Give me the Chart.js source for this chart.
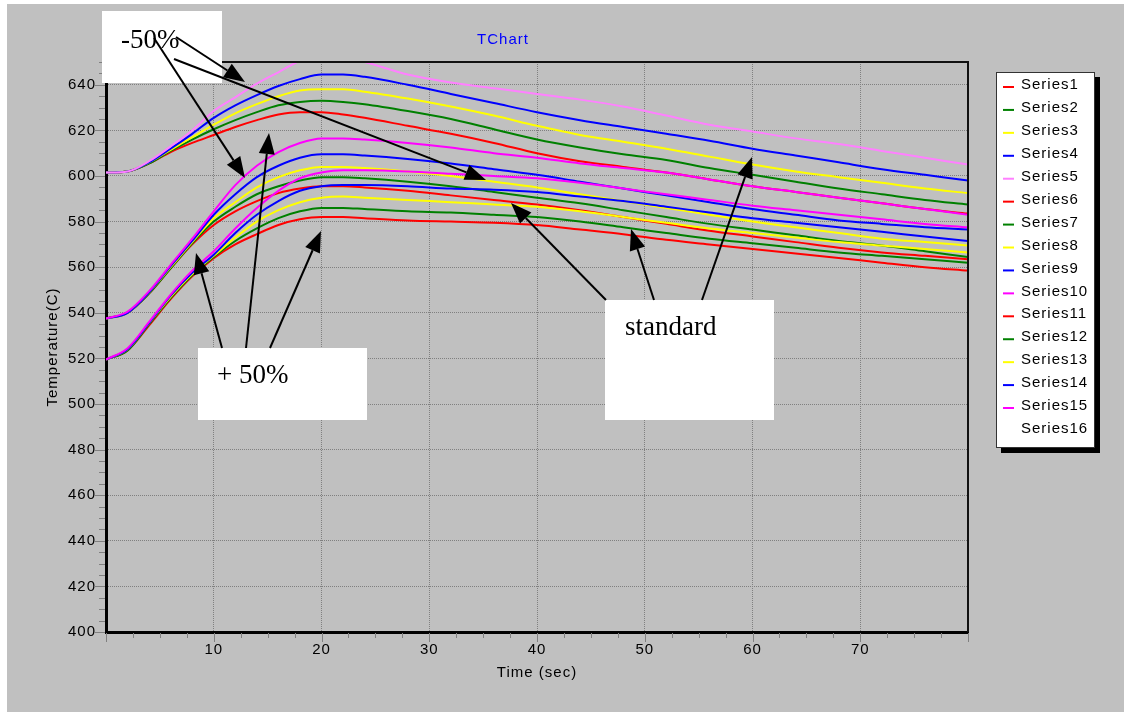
<!DOCTYPE html>
<html>
<head>
<meta charset="utf-8">
<title>TChart</title>
<script src="https://cdn.jsdelivr.net/npm/chart.js@4.4.1/dist/chart.umd.min.js"></script>
<style>
  html, body { margin: 0; padding: 0; background: #ffffff; }
  canvas { display: block; }
</style>
</head>
<body>
<canvas id="tempChart" width="1124" height="712"></canvas>
<script>
// sample times (sec)
const time = [0, 2, 4, 6, 8, 10, 12, 14, 16, 18, 20, 22, 24, 28, 32, 36, 40, 44, 48, 52, 56, 60, 64, 68, 72, 76, 80];

// group starting at ~601 C
const series1 = [601.5, 602, 605.5, 610.5, 614.5, 618, 621.5, 624.5, 627, 628, 628, 627, 625.5, 622, 618.5, 614.5, 610, 606.5, 604, 601.5, 598.5, 595.5, 593, 590.5, 588, 585.5, 583.5];
const series2 = [601.5, 602, 605.5, 611, 616, 620.5, 624.5, 628, 631, 632.5, 633, 632.5, 631.5, 628.5, 625, 620.5, 616, 612.5, 609.5, 607, 603.5, 600.5, 597.5, 594.5, 592, 589.5, 587.5];
const series3 = [601.5, 602, 606, 611.5, 617, 622.5, 627.5, 631.5, 635, 637.5, 638, 638, 637, 634, 630.5, 626.5, 622, 618, 615, 612, 608.5, 605, 602, 599.5, 597, 594.5, 592.5];
const series4 = [601.5, 602, 606, 612, 618.5, 625.5, 631, 635.5, 639.5, 642.5, 644.5, 644.5, 643.5, 640, 636, 632, 628, 624.5, 621.5, 618.5, 615.5, 612, 609, 606, 603, 600.5, 598];
const series5 = [601.5, 602, 606.5, 613, 620, 628.5, 634.5, 640.5, 645.5, 650.5, 652.5, 652, 650, 644.5, 641, 638.5, 636, 633.5, 630.5, 626.5, 622.5, 619.5, 616.5, 614, 611, 608, 605];

// group starting at ~537 C
const series6 = [537.5, 540, 548.5, 559.5, 570, 578.5, 584.5, 589, 592.5, 594.5, 595.5, 595.5, 595, 593.5, 591.5, 589.5, 587.5, 585, 582, 579, 576, 573.5, 571, 568.5, 566.5, 565, 563.5];
const series7 = [537.5, 540, 548.5, 559.5, 570.5, 580, 586.5, 592, 595.5, 598, 599.5, 599.5, 599, 597.5, 595.5, 593, 590.5, 588, 585, 582, 579, 576.5, 574, 571.5, 569.5, 567, 564.5];
const series8 = [537.5, 540, 549, 560, 571, 581.5, 588.5, 595, 599.5, 602.5, 604, 604, 603.5, 602, 600, 597.5, 595, 592, 589, 586, 583, 580, 577.5, 575, 572.5, 571, 569.5];
const series9 = [537.5, 540, 549, 560.5, 571.5, 583, 592, 599.5, 604.5, 608, 609.5, 609.5, 609, 607.5, 605.5, 603, 600.5, 597.5, 594.5, 591.5, 588.5, 585.5, 583, 580.5, 579, 577.5, 576.5];
const series10 = [537.5, 540.5, 549.5, 561, 572.5, 584.5, 596, 604.5, 610.5, 614.5, 616.5, 616.5, 616, 614.5, 612.5, 610, 608, 605.5, 603.5, 601.5, 598.5, 595.5, 593, 590.5, 588, 585.5, 583];

// group starting at ~519 C
const series11 = [519.5, 523.5, 534.5, 546, 556, 564, 570, 574.5, 578.5, 581, 582, 582, 581.5, 580.5, 580, 579.5, 578.5, 576.5, 574.5, 572, 570, 568, 566, 564, 562, 560, 558.5];
const series12 = [519.5, 523.5, 535, 546.5, 556.5, 564.5, 571.5, 577, 581.5, 584.5, 586, 586, 585.5, 584.5, 584, 583, 582, 580, 577.5, 575, 572.5, 570.5, 568.5, 566.5, 565, 563.5, 562];
const series13 = [519.5, 524, 535.5, 547, 557, 565, 573, 580, 585, 588.5, 590.5, 591, 590.5, 589.5, 588.5, 587.5, 586.5, 584.5, 582, 579.5, 577, 575, 573, 571, 569.5, 568, 566.5];
const series14 = [519.5, 524, 535.5, 547.5, 557.5, 565.5, 575, 583, 589, 593.5, 595.5, 596, 596, 595.5, 594.5, 594, 593, 591, 589, 586.5, 584, 581.5, 579.5, 577.5, 575.5, 573.5, 571.5];
const series15 = [519.5, 524.5, 536, 548, 558.5, 567, 577, 586, 593.5, 599, 601.5, 602.5, 602.5, 602, 601, 600, 599, 597, 594.5, 592, 589.5, 587, 585, 583, 581, 579, 577.5];
const series16 = [];

const allSeries = [series1, series2, series3, series4, series5, series6, series7, series8,
  series9, series10, series11, series12, series13, series14, series15, series16];
const seriesNames = ["Series1", "Series2", "Series3", "Series4", "Series5", "Series6", "Series7", "Series8",
  "Series9", "Series10", "Series11", "Series12", "Series13", "Series14", "Series15", "Series16"];
const seriesColors = ["#FF0000", "#008000", "#FFFF00", "#0000FF", "#FF80FF", "#FF0000", "#008000", "#FFFF00",
  "#0000FF", "#FF00FF", "#FF0000", "#008000", "#FFFF00", "#0000FF", "#FF00FF", "#FFFFFF"];

const xTickValues = [10, 20, 30, 40, 50, 60, 70];
const yTickValues = [400, 420, 440, 460, 480, 500, 520, 540, 560, 580, 600, 620, 640];

// callout boxes and arrows drawn on top (canvas pixels)
const callouts = [
  { text: "-50%", box: [102, 11, 120, 72], at: [121, 48] },
  { text: "+ 50%", box: [198, 348, 169, 72], at: [217, 383] },
  { text: "standard", box: [605, 300, 169, 120], at: [625, 335] }
];
const arrows = [
  [176, 37, 245, 82],
  [154, 38, 245, 178],
  [174, 59, 486, 180],
  [222, 348, 196, 253],
  [246, 348, 269, 133],
  [270, 348, 321, 231],
  [606, 300, 511, 203],
  [654, 300, 631, 229],
  [702, 300, 752, 157]
];

const FONT = "'Liberation Sans', Arial, sans-serif";
Chart.defaults.font.family = FONT;
Chart.defaults.font.size = 15;
Chart.defaults.color = "#000000";

const spacing = {
  id: "spacing",
  beforeLayout(chart) { chart.ctx.letterSpacing = "1px"; },
  beforeDraw(chart) { chart.ctx.letterSpacing = "1px"; }
};

const panel = {
  id: "panel",
  beforeDraw(chart) {
    const ctx = chart.ctx;
    ctx.save();
    ctx.fillStyle = "#FFFFFF";
    ctx.fillRect(0, 0, chart.width, chart.height);
    ctx.fillStyle = "#C0C0C0";
    ctx.fillRect(7, 4, chart.width - 7, chart.height - 4);
    ctx.fillStyle = "#0000FF";
    ctx.font = "15px " + FONT;
    ctx.textAlign = "center";
    ctx.textBaseline = "middle";
    ctx.fillText("TChart", 503, 40);
    ctx.restore();
  }
};

// minor/major tick marks plus the top and right frame
const frame = {
  id: "frame",
  afterDatasetsDraw(chart) {
    const ctx = chart.ctx;
    const a = chart.chartArea;
    const xs = chart.scales.x, ys = chart.scales.y;
    ctx.save();
    ctx.strokeStyle = "#808080";
    ctx.lineWidth = 1;
    ctx.beginPath();
    for (let v = 400; v <= 650; v += 5) {
      const y = Math.round(ys.getPixelForValue(v)) + 0.5;
      const len = v % 20 === 0 ? 10 : 5;
      ctx.moveTo(a.left - 2 - len, y);
      ctx.lineTo(a.left - 1, y);
    }
    for (let t = 0; t <= 80; t += 2.5) {
      const x = Math.round(xs.getPixelForValue(t)) + 0.5;
      const len = t % 10 === 0 ? 9 : 5;
      ctx.moveTo(x, a.bottom + 1);
      ctx.lineTo(x, a.bottom + 1 + len);
    }
    ctx.stroke();
    ctx.strokeStyle = "#111111";
    ctx.lineWidth = 2;
    ctx.beginPath();
    ctx.moveTo(a.left, a.top);
    ctx.lineTo(a.right, a.top);
    ctx.lineTo(a.right, a.bottom);
    ctx.stroke();
    ctx.restore();
  }
};

const legendBox = {
  id: "legendBox",
  afterDraw(chart) {
    const ctx = chart.ctx;
    const x = 996, y = 72, w = 99, h = 376;
    ctx.save();
    ctx.fillStyle = "#000000";
    ctx.fillRect(x + 5, y + 5, w, h);
    ctx.fillStyle = "#FFFFFF";
    ctx.fillRect(x, y, w, h);
    ctx.strokeStyle = "#333333";
    ctx.lineWidth = 1;
    ctx.strokeRect(x + 0.5, y + 0.5, w - 1, h - 1);
    ctx.font = "15px " + FONT;
    ctx.textAlign = "left";
    ctx.textBaseline = "middle";
    chart.data.datasets.forEach((ds, i) => {
      const ry = y + 13 + i * 22.93;
      ctx.strokeStyle = ds.borderColor;
      ctx.lineWidth = 2;
      ctx.beginPath();
      ctx.moveTo(x + 7, ry + 2);
      ctx.lineTo(x + 18, ry + 2);
      ctx.stroke();
      ctx.fillStyle = "#000000";
      ctx.fillText(ds.label, x + 25, ry);
    });
    ctx.restore();
  }
};

const notes = {
  id: "notes",
  afterDraw(chart) {
    const ctx = chart.ctx;
    ctx.save();
    ctx.letterSpacing = "0px";
    callouts.forEach(c => {
      ctx.fillStyle = "#FFFFFF";
      ctx.fillRect(c.box[0], c.box[1], c.box[2], c.box[3]);
      ctx.fillStyle = "#000000";
      ctx.font = "27px 'Liberation Serif', 'Times New Roman', serif";
      ctx.textAlign = "left";
      ctx.textBaseline = "alphabetic";
      ctx.fillText(c.text, c.at[0], c.at[1]);
    });
    ctx.strokeStyle = "#000000";
    ctx.fillStyle = "#000000";
    ctx.lineWidth = 2;
    arrows.forEach(([x1, y1, x2, y2]) => {
      const ang = Math.atan2(y2 - y1, x2 - x1);
      const len = 21, half = 8;
      const bx = x2 - len * Math.cos(ang), by = y2 - len * Math.sin(ang);
      ctx.beginPath();
      ctx.moveTo(x1, y1);
      ctx.lineTo(bx, by);
      ctx.stroke();
      ctx.beginPath();
      ctx.moveTo(x2, y2);
      ctx.lineTo(bx + half * Math.sin(ang), by - half * Math.cos(ang));
      ctx.lineTo(bx - half * Math.sin(ang), by + half * Math.cos(ang));
      ctx.closePath();
      ctx.fill();
    });
    ctx.restore();
  }
};

const datasets = seriesNames.map((name, i) => ({
  label: name,
  data: allSeries[i].map((v, k) => ({ x: time[k], y: v })),
  borderColor: seriesColors[i],
  backgroundColor: seriesColors[i],
  borderWidth: 2,
  pointRadius: 0,
  fill: false,
  cubicInterpolationMode: "monotone",
  order: -i
}));

const tempChart = new Chart(document.getElementById("tempChart"), {
  type: "line",
  data: { datasets: datasets },
  options: {
    responsive: false,
    maintainAspectRatio: false,
    animation: false,
    layout: { padding: { left: 0, top: 62, right: 156, bottom: 0 } },
    plugins: {
      legend: { display: false },
      title: { display: false },
      tooltip: { enabled: false }
    },
    scales: {
      x: {
        type: "linear",
        min: 0,
        max: 80,
        afterBuildTicks: (scale) => { scale.ticks = xTickValues.map(v => ({ value: v })); },
        ticks: { padding: 9, maxRotation: 0, autoSkip: false, color: "#000000" },
        grid: { color: "#808080", lineWidth: 1, drawTicks: false },
        border: { display: true, color: "#000000", width: 3, dash: [1, 1] },
        title: { display: true, text: "Time (sec)", color: "#000000", padding: { top: 0, bottom: 30 } },
        afterFit: (scale) => { scale.height = 80; }
      },
      y: {
        type: "linear",
        min: 400,
        max: 650,
        afterBuildTicks: (scale) => { scale.ticks = yTickValues.map(v => ({ value: v })); },
        ticks: { padding: 10, color: "#000000" },
        grid: { color: "#808080", lineWidth: 1, drawTicks: false },
        border: { display: true, color: "#000000", width: 3, dash: [1, 1] },
        title: { display: true, text: "Temperature(C)", color: "#000000", padding: { top: 44, bottom: 0 } },
        afterFit: (scale) => { scale.width = 106; }
      }
    }
  },
  plugins: [spacing, panel, frame, legendBox, notes]
});
</script>
</body>
</html>
